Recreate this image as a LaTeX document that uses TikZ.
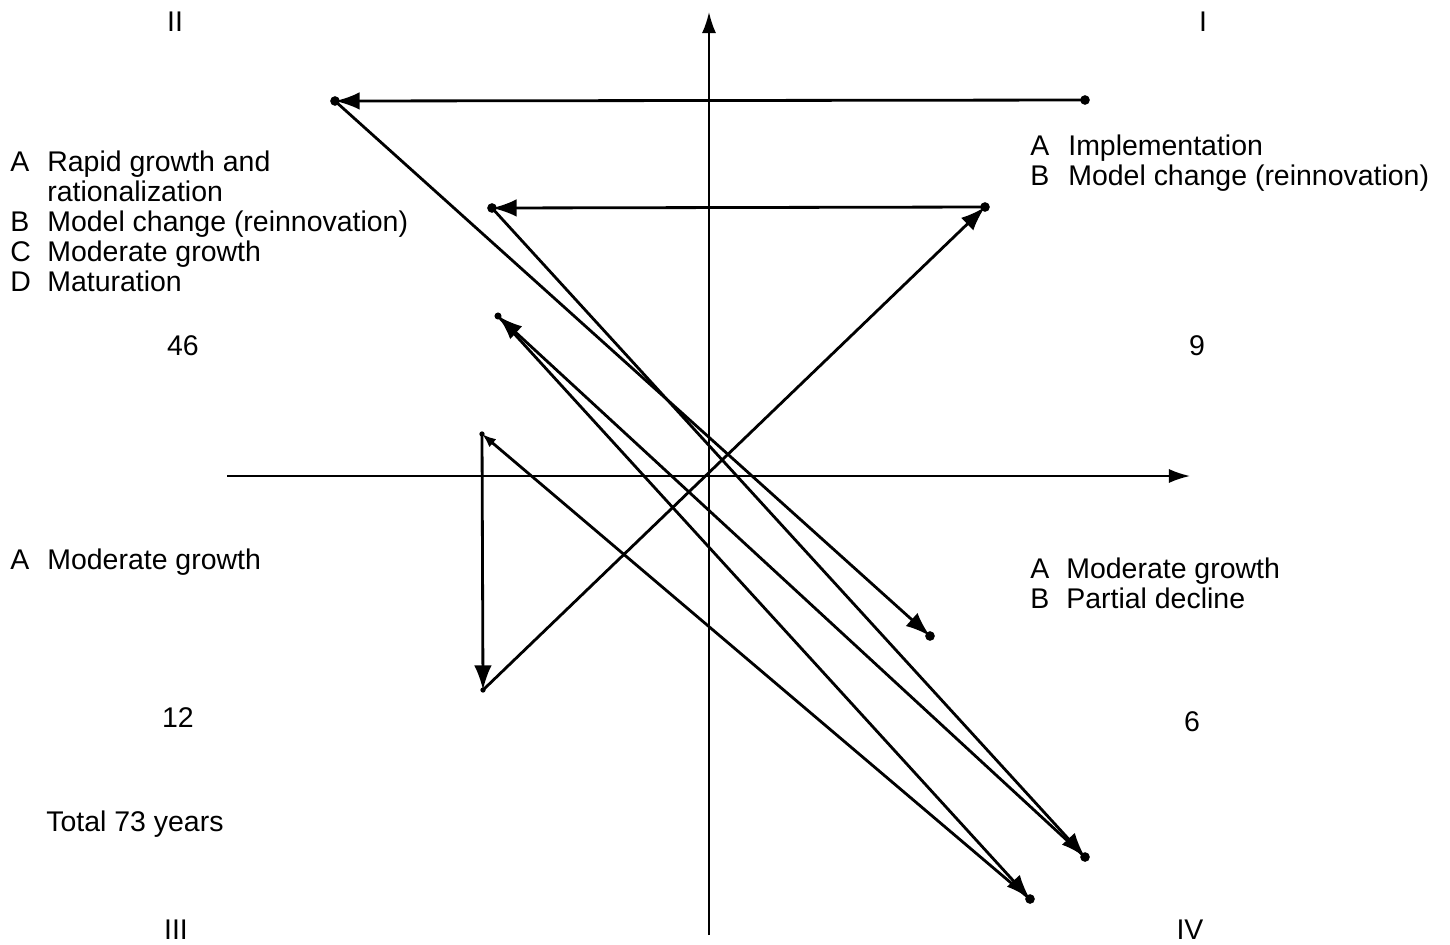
\documentclass[tikz,border=0pt]{standalone}
\usepackage{fontspec}
\setmainfont{Liberation Sans}
\usetikzlibrary{arrows.meta}
\begin{document}
\begin{tikzpicture}[x=0.02cm,y=-0.02cm,
  lbl/.style={anchor=base west,inner sep=0pt,font=\fontsize{16.2}{19}\selectfont},
  num/.style={anchor=base,inner sep=0pt,font=\fontsize{16.2}{19}\selectfont},
  axis/.style={line width=1.1pt,-{Latex[length=12pt,width=8pt]}},
  flow/.style={line width=1.6pt,-{Latex[length=14pt,width=10pt]}},
  pt/.style={circle,fill=black,inner sep=0pt,minimum size=5.5pt}]
\useasboundingbox (0,0) rectangle (1450,944);
% points
\coordinate (o1) at (709,935); \coordinate (o2) at (709,12);
\coordinate (h1) at (227,476); \coordinate (h2) at (1190,476);
\node[pt] (p1) at (1085,100) {};
\node[pt] (p2) at (335,101) {};
\node[pt] (p3) at (930,636) {};
\node[pt] (p4) at (985,207) {};
\node[pt] (p5) at (492,208) {};
\node[pt] (p6) at (1085,857) {};
\node[pt,minimum size=4pt] (p7) at (498,316) {};
\node[pt] (p8) at (1030,899) {};
\node[pt,minimum size=3pt] (p9) at (482,434) {};
\node[pt,minimum size=3pt] (p10) at (483,690) {};
% axes
\draw[axis] (o1) -- (o2);
\draw[axis] (h1) -- (h2);
% flows
\draw[flow] (p1.center) -- (p2.center);
\draw[flow] (p2.center) -- (p3.center);
\draw[flow] (p4.center) -- (p5.center);
\draw[flow] (p5.center) -- (p6.center);
\draw[flow] (p6.center) -- (p7.center);
\draw[flow] (p7.center) -- (p8.center);
\draw[line width=1.6pt,-{Latex[length=8pt,width=6pt]}] (p8.center) -- (p9.center);
\draw[flow] (p9.center) -- (p10.center);
\draw[flow] (p10.center) -- (p4.center);
% quadrant labels
\node[num] (qII) at (175,31) {II};
\node[num] (qI) at (1203,31) {I};
\node[num] (qIII) at (176,939) {III};
\node[num] (qIV) at (1190,939) {IV};
% left upper
\node[lbl] (la1) at (10,171) {A};
\node[lbl] (lt1) at (47,171) {Rapid growth and};
\node[lbl] (lt1b) at (47,201) {rationalization};
\node[lbl] (la2) at (10,231) {B};
\node[lbl] (lt2) at (47,231) {Model change (reinnovation)};
\node[lbl] (la3) at (10,261) {C};
\node[lbl] (lt3) at (47,261) {Moderate growth};
\node[lbl] (la4) at (10,291) {D};
\node[lbl] (lt4) at (47,291) {Maturation};
% right upper
\node[lbl] (ra1) at (1030,155) {A};
\node[lbl] (rt1) at (1068,155) {Implementation};
\node[lbl] (ra2) at (1030,185) {B};
\node[lbl] (rt2) at (1068,185) {Model change (reinnovation)};
% left lower
\node[lbl] (lla1) at (10,569) {A};
\node[lbl] (llt1) at (47,569) {Moderate growth};
% right lower
\node[lbl] (rla1) at (1030,578) {A};
\node[lbl] (rlt1) at (1066,578) {Moderate growth};
\node[lbl] (rla2) at (1030,608) {B};
\node[lbl] (rlt2) at (1066,608) {Partial decline};
% numbers
\node[num] (n46) at (183,355) {46};
\node[num] (n9) at (1197,355) {9};
\node[num] (n12) at (178,727) {12};
\node[num] (n6) at (1192,731) {6};
\node[lbl] (tot) at (46,831) {Total 73 years};
\end{tikzpicture}
\end{document}
